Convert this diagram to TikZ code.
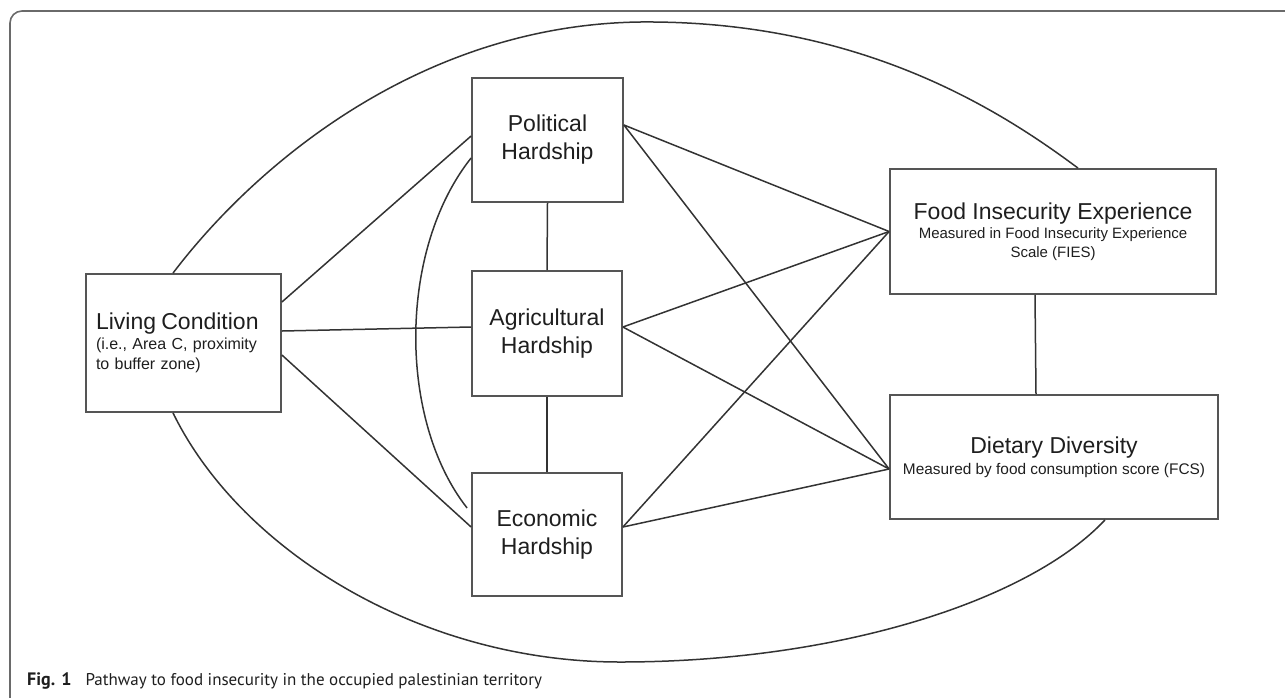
\documentclass[tikz,border=0pt]{standalone}
\usepackage{fontspec}
\setmainfont{Liberation Sans}
\newfontfamily\capfont{PT Sans}
\definecolor{framegray}{HTML}{6A6A6A}
\definecolor{boxgray}{HTML}{555555}
\definecolor{linegray}{HTML}{333333}
\definecolor{textgray}{HTML}{1E1E1E}

\begin{document}
\begin{tikzpicture}[x=1pt,y=-1pt,
    box/.style={draw=boxgray,line width=1.8pt,inner sep=0pt,align=center,text=textgray,font=\fontsize{23}{28}\selectfont},
    link/.style={linegray,line width=1.5pt}]
    \useasboundingbox (0,0) rectangle (1285,697);
    \draw[framegray,line width=1.6pt,rounded corners=12pt] (40,712)--(10,712)--(10,11)--(1300,11);
    % hardship boxes
    \node[box,minimum width=151pt,minimum height=124pt] (pol) at (547.5,140) {Political\\Hardship};
    \node[box,minimum width=150pt,minimum height=125pt] (agr) at (547,333.5) {Agricultural\\Hardship};
    \node[box,minimum width=150pt,minimum height=123pt] (eco) at (547,534.5) {Economic\\Hardship};
    % living condition
    \node[box,minimum width=195pt,minimum height=138pt,text width=175pt,align=left,font=\fontsize{16}{20}\selectfont] (living) at (183.5,343)
        {{\fontsize{23}{23}\selectfont Living Condition}\\(i.e., Area C, proximity\\to buffer zone)};
    % outcomes
    \node[box,minimum width=326pt,minimum height=125pt,font=\fontsize{15}{19}\selectfont] (fies) at (1053,231.5)
        {{\fontsize{23}{23}\selectfont Food Insecurity Experience}\\Measured in Food Insecurity Experience\\Scale (FIES)};
    \node[box,minimum width=328pt,minimum height=124pt,font=\fontsize{15.4}{21}\selectfont] (diet) at (1054,457)
        {{\fontsize{23}{23}\selectfont Dietary Diversity}\\Measured by food consumption score (FCS)};

    \draw[link] (pol.south)--(agr.north);
    \draw[link] (agr.south)--(eco.north);
    \draw[link] ([xshift=-18pt]fies.south)--([xshift=-18pt]diet.north);
    \draw[link] ([yshift=41pt]living.east)--([yshift=4pt]pol.west);
    \draw[link] ([yshift=12pt]living.east)--([yshift=6.5pt]agr.west);
    \draw[link] ([yshift=-12pt]living.east)--([yshift=7.5pt]eco.west);
    \draw[link] ([yshift=-18pt]pol.west) .. controls (398,250) and (398,420) .. ([xshift=-4pt,yshift=26.5pt]eco.west);
    \foreach \src/\dy in {pol/15pt,agr/6.5pt,eco/7.5pt}{
        \draw[link] ([yshift=\dy]\src.east)--(fies.west);
        \draw[link] ([yshift=\dy]\src.east)--([yshift=-12pt]diet.west);
    }
    % the two outer loops
    \draw[link] ([xshift=-10.5pt]living.north) .. controls (255,165) and (420,25) .. (640,22)
        .. controls (860,20) and (1000,110) .. ([xshift=25pt]fies.north);
    \draw[link] ([xshift=-10.5pt]living.south) .. controls (240,550) and (420,662) .. (620,662)
        .. controls (840,662) and (1030,600) .. ([xshift=51pt]diet.south);

    \node[anchor=base west,inner sep=0pt,text=textgray,font=\capfont] (caption) at (27,685)
        {{\fontsize{18}{20}\selectfont\textbf{Fig. 1}}\hspace{14pt}{\fontsize{17}{20}\selectfont Pathway to food insecurity in the occupied palestinian territory}};
\end{tikzpicture}
\end{document}
